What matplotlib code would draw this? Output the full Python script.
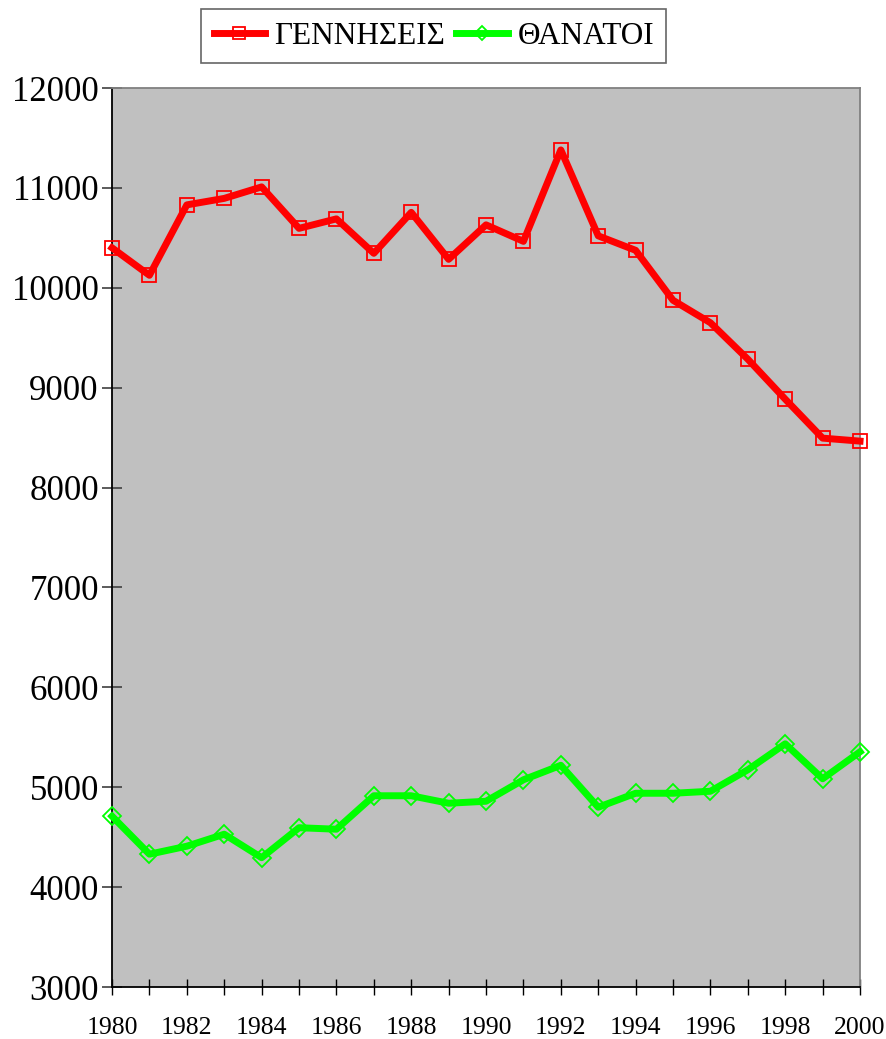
import numpy as np
import matplotlib.pyplot as plt

years = list(range(1980, 2001))
births = [10400, 10125, 10830, 10895, 11010, 10595, 10690, 10345, 10755, 10285,
          10630, 10465, 11380, 10520, 10375, 9875, 9650, 9285, 8885, 8495, 8465]
deaths = [4710, 4330, 4410, 4530, 4295, 4595, 4580, 4915, 4915, 4840,
          4860, 5075, 5220, 4800, 4940, 4940, 4960, 5175, 5435, 5085, 5355]
labels = ['ΓΕΝΝΗΣΕΙΣ', 'ΘΑΝΑΤΟΙ']

plt.rcParams['font.family'] = ['Liberation Serif', 'DejaVu Serif']

fig = plt.figure(figsize=(8.87, 10.39), dpi=100)
ax = fig.add_axes([0.1263, 0.0500, 0.8433, 0.8653])
ax.set_facecolor('#c0c0c0')

ax.plot(years, births, color='#ff0000', lw=5, marker='s', ms=10,
        mfc='none', mec='#ff0000', mew=1.3, clip_on=False, zorder=3, label=labels[0])
ax.plot(years, deaths, color='#00ff00', lw=5, marker='D', ms=9,
        mfc='none', mec='#00ff00', mew=1.3, clip_on=False, zorder=3, label=labels[1])

ax.set_xlim(1980, 2000)
ax.set_ylim(3000, 12000)
ax.set_xticks(range(1980, 2001, 2))
ax.set_xticks(range(1980, 2001), minor=True)
ax.set_yticks(range(3000, 12001, 1000))

ax.tick_params(axis='y', direction='inout', length=15, width=1.2, color='#404040',
               labelsize=25, pad=2)
ax.tick_params(axis='x', which='both', direction='inout', length=11, width=1,
               color='black', labelsize=18.5, pad=16)

for s in ['left', 'bottom']:
    ax.spines[s].set_color('black')
    ax.spines[s].set_linewidth(1.3)
for s in ['top', 'right']:
    ax.spines[s].set_color('#808080')
    ax.spines[s].set_linewidth(1.3)

leg = ax.legend(loc='upper center', bbox_to_anchor=(0.489, 0.991),
                bbox_transform=fig.transFigure, borderaxespad=0, ncol=2,
                fontsize=22.5, frameon=True, fancybox=False, edgecolor='#404040',
                handlelength=1.65, handletextpad=0.3, columnspacing=0.35,
                borderpad=0.4, markerscale=0.8)
leg.get_frame().set_linewidth(1.2)

fig.savefig('out.png', dpi=100)
